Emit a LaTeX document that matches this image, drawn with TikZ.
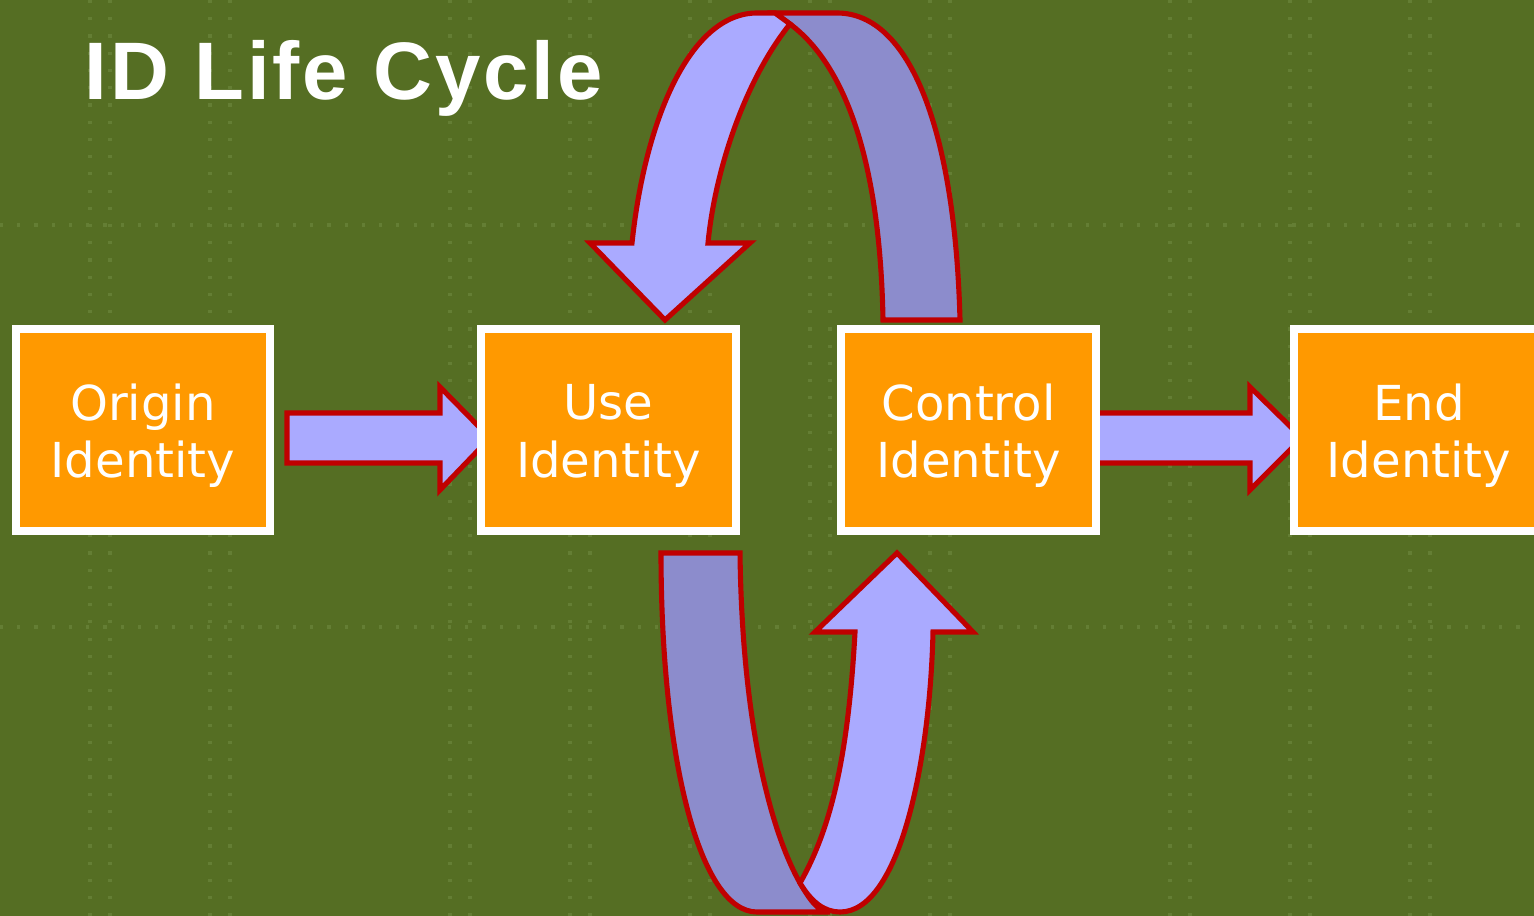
\documentclass[tikz,border=0pt]{standalone}
\usepackage{fontspec}
\setmainfont{DejaVu Sans}
\newfontfamily\titlefont[LetterSpace=3.5]{Liberation Sans}
\usetikzlibrary{calc}
\definecolor{bg}{RGB}{85,110,35}
\definecolor{dots}{RGB}{100,126,52}
\definecolor{boxorange}{RGB}{255,153,0}
\definecolor{arrowlight}{RGB}{170,170,255}
\definecolor{arrowdark}{RGB}{140,140,204}
\definecolor{arrowred}{RGB}{192,0,0}
\tikzset{
  idbox/.style={draw=white, fill=boxorange, line width=2.3pt, minimum width=2.54cm,
    minimum height=2.02cm, inner sep=0pt},
  idtext/.style={inner sep=0pt, align=center, text=white,
    font=\fontsize{13.7}{16.3}\selectfont},
  blockarrow/.style={draw=arrowred, line width=1.45pt, fill=arrowlight},
  backband/.style={draw=arrowred, line width=1.45pt, fill=arrowdark},
  bgdots/.style={dots, line width=0.9pt, dash pattern=on 0.9pt off 4pt}
}
\begin{document}
\begin{tikzpicture}[x=0.01cm, y=-0.01cm]
\path[use as bounding box] (0,0) rectangle (1534,916);
\clip (0,0) rectangle (1534,916);
\fill[bg] (0,0) rectangle (1534,916);
% faint background pattern
\foreach \xx in {90,110,210,230,450,470,570,590,690,710,810,830,930,950,1170,1190,1290,1310,1410,1430}
  \draw[bgdots] (\xx,0) -- (\xx,916);
\foreach \yy in {225,627}
  \draw[bgdots] (0,\yy) -- (1534,\yy);

% title
\node[anchor=base west, inner sep=0pt, text=white, font=\titlefont\bfseries\fontsize{23.2}{27}\selectfont]
  (title) at (84,100) {ID Life Cycle};

% straight arrows (under the boxes)
\draw[blockarrow] (287,413) -- (440,413) -- (440,387) -- (490,438) -- (440,490) -- (440,463) -- (287,463) -- cycle;
\draw[blockarrow] (1080,413) -- (1250,413) -- (1250,387) -- (1302,438) -- (1250,490) -- (1250,463) -- (1080,463) -- cycle;

% boxes
\node[idbox] (origin)  at (143,430) {};
\node[idbox] (use)     at (608.5,430) {};
\node[idbox] (control) at (968.5,430) {};
\node[idbox] (endid)   at (1421,430) {};
\node[idtext] (origintext)  at ($(origin.center)+(0,6)$)  {Origin\\Identity};
\node[idtext] (usetext)     at ($(use.center)+(0,6)$)     {Use\\Identity};
\node[idtext] (controltext) at ($(control.center)+(0,6)$) {Control\\Identity};
\node[idtext] (endtext)     at ($(endid.center)+(-2,6)$)  {End\\Identity};

% top curved arrow: back band
\draw[backband] (883,320) .. controls (880,160) and (845,65) .. (790,24)
  -- (775,13) -- (837,13) .. controls (910,13) and (955,130) .. (960,320) -- cycle;
% top curved arrow: front band with head
\draw[blockarrow] (632,243) .. controls (645,120) and (690,13) .. (757,13)
  -- (775,13) -- (790,24) .. controls (745,80) and (715,170) .. (708,243)
  -- (750,243) -- (665,320) -- (590,243) -- cycle;

% bottom curved arrow: back band
\draw[backband] (661,553) -- (740,553) .. controls (742,720) and (770,830) .. (800,883)
  .. controls (810,900) and (818,912) .. (830,912) -- (757,912)
  .. controls (700,912) and (661,760) .. (661,553) -- cycle;
% bottom curved arrow: front band with head
\draw[blockarrow] (855,632) .. controls (848,760) and (830,830) .. (800,883)
  .. controls (812,903) and (825,912) .. (840,912)
  .. controls (900,912) and (930,760) .. (933,632)
  -- (973,632) -- (897,553) -- (815,632) -- cycle;
\end{tikzpicture}
\end{document}
